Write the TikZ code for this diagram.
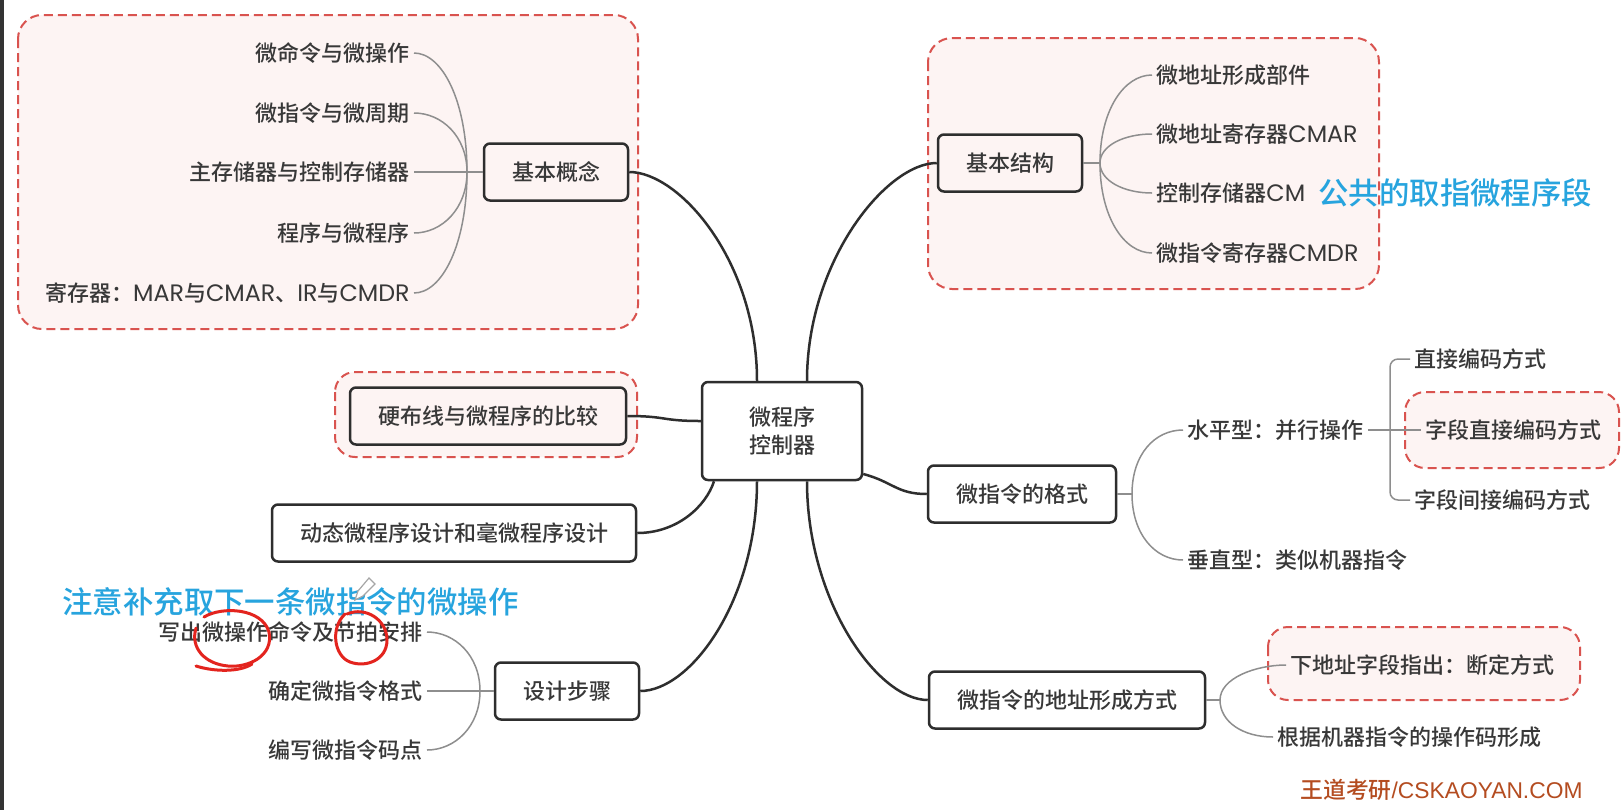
\documentclass[tikz,border=0pt]{standalone}
\usepackage{fontspec}
\setmainfont{Noto Sans CJK SC}[UprightFont={* Medium}]
\newfontfamily\en{Poppins}[Scale=1.08]
\newfontfamily\wmfont{Liberation Sans}
\usetikzlibrary{positioning}
\pgfdeclarelayer{background}
\pgfsetlayers{background,main}

\definecolor{ink}{HTML}{383838}
\definecolor{boxline}{HTML}{2E2E2E}
\definecolor{twig}{HTML}{8E8E8E}
\definecolor{hlred}{HTML}{D9534F}
\definecolor{hlfill}{HTML}{FDF4F3}
\definecolor{notebl}{HTML}{27A4DE}
\definecolor{penred}{HTML}{E3241E}
\definecolor{wmark}{HTML}{B44C20}

\tikzset{
  topic/.style={draw=boxline, line width=1.25pt, rounded corners=3pt, fill=white,
    inner xsep=14pt, minimum height=28.5pt, text=ink},
  leaf/.style={inner sep=2pt, text=ink},
  limb/.style={draw=boxline, line width=1.25pt},
  twigline/.style={draw=twig, line width=0.75pt},
  hilite/.style={draw=hlred, fill=hlfill, line width=1pt, dash pattern=on 4.5pt off 2.5pt, rounded corners=12pt},
  memo/.style={text=notebl, font=\fontsize{15.2}{18}\selectfont, inner sep=0pt},
  redink/.style={draw=penred, line width=1.5pt, line cap=round},
}

\begin{document}
\begin{tikzpicture}[x=0.5pt, y=-0.5pt, font=\fontsize{11}{14}\selectfont]
  \useasboundingbox (0,0) rectangle (1622,810);

  % centre
  \node[topic, minimum width=80pt, minimum height=49pt, align=center] (mpc) at (782,431) {微程序\\控制器};

  % basic concepts (left, top)
  \node[topic, fill=hlfill] (bg) at (556,172) {基本概念};
  \coordinate (bgj) at (467,172);
  \draw[twigline] (bgj) -- (bg.west);
  \foreach \i/\txt/\y in {1/微命令与微操作/53, 2/微指令与微周期/113, 3/主存储器与控制存储器/172,
      4/程序与微程序/233, 5/{寄存器：{\en MAR}与{\en CMAR}、{\en IR}与{\en CMDR}}/293} {
    \node[leaf, anchor=east] (bg\i) at (414,\y) {\txt};
    \draw[twigline] (bg\i.east) .. controls +(28,0) and +(0,{0.6*(\y-172)}) .. (bgj);
  }

  % basic structure (right, top)
  \node[topic, fill=hlfill] (bs) at (1010,163) {基本结构};
  \coordinate (bsj) at (1100,163);
  \draw[twigline] (bs.east) -- (bsj);
  \foreach \i/\txt/\y in {1/微地址形成部件/75, 2/{微地址寄存器{\en CMAR}}/134,
      3/{控制存储器{\en CM}}/193, 4/{微指令寄存器{\en CMDR}}/253} {
    \node[leaf, anchor=west] (bs\i) at (1152,\y) {\txt};
    \draw[twigline] (bsj) .. controls +(0,{0.6*(\y-163)}) and +(-28,0) .. (bs\i.west);
  }
  \node[memo, anchor=west] (pub) at (1318,193) {公共的取指微程序段};

  % comparison, dynamic design
  \node[topic, fill=hlfill] (hb) at (488,416) {硬布线与微程序的比较};
  \node[topic] (dt) at (454,533) {动态微程序设计和毫微程序设计};

  % design steps
  \node[topic] (sj) at (567,691) {设计步骤};
  \coordinate (sjj) at (480,691);
  \draw[twigline] (sjj) -- (sj.west);
  \foreach \i/\txt/\y in {1/写出微操作命令及节拍安排/632, 2/确定微指令格式/691, 3/编写微指令码点/750} {
    \node[leaf, anchor=east] (sj\i) at (427,\y) {\txt};
    \draw[twigline] (sj\i.east) .. controls +(28,0) and +(0,{0.6*(\y-691)}) .. (sjj);
  }
  \node[memo, anchor=west] (nxt) at (62,602) {注意补充取下一条微指令的微操作};

  % microinstruction format
  \node[topic] (gs) at (1022,494) {微指令的格式};
  \coordinate (gsj) at (1132,494);
  \draw[twigline] (gs.east) -- (gsj);
  \node[leaf, anchor=west] (sp) at (1183,430) {水平型：并行操作};
  \node[leaf, anchor=west] (cz) at (1183,560) {垂直型：类似机器指令};
  \draw[twigline] (gsj) .. controls +(0,-40) and +(-28,0) .. (sp.west);
  \draw[twigline] (gsj) .. controls +(0,40) and +(-28,0) .. (cz.west);
  \node[leaf, anchor=west] (zj1) at (1410,359) {直接编码方式};
  \node[leaf, anchor=west] (zj2) at (1421,430) {字段直接编码方式};
  \node[leaf, anchor=west] (zj3) at (1410,500) {字段间接编码方式};
  \draw[twigline] (sp.east) -- (zj2.west);
  \draw[twigline, rounded corners=4pt] (zj1.west) -- ++(-20,0) |- (zj3.west);

  % address forming
  \node[topic] (dz) at (1067,700) {微指令的地址形成方式};
  \coordinate (dzj) at (1220,700);
  \draw[twigline] (dz.east) -- (dzj);
  \node[leaf, anchor=west] (xd) at (1286,665) {下地址字段指出：断定方式};
  \node[leaf, anchor=west] (gj) at (1273,737) {根据机器指令的操作码形成};
  \draw[twigline] (dzj) .. controls +(0,-22) and +(-30,0) .. (xd.west);
  \draw[twigline] (dzj) .. controls +(0,22) and +(-30,0) .. (gj.west);

  % main branches
  \draw[limb] ([xshift=-12.5pt]mpc.north) .. controls +(0,-120) and +(50,0) .. (bg.east);
  \draw[limb] ([xshift=12.5pt]mpc.north) .. controls +(0,-120) and +(-50,0) .. (bs.west);
  \draw[limb] (hb.east) .. controls +(40,0) and +(-40,0) .. ([yshift=5pt]mpc.west);
  \draw[limb] ([xshift=-34pt]mpc.south) .. controls +(-8,25) and +(40,0) .. (dt.east);
  \draw[limb] ([xshift=-12.5pt]mpc.south) .. controls +(0,120) and +(50,0) .. (sj.east);
  \draw[limb] ([xshift=12.5pt]mpc.south) .. controls +(0,120) and +(-50,0) .. (dz.west);
  \draw[limb] ([yshift=-21.5pt]mpc.east) .. controls +(30,8) and +(-30,0) .. (gs.west);

  % page and highlighted regions
  \begin{pgfonlayer}{background}
    \fill[white] (0,0) rectangle (1622,810);
    \fill[black!80] (0,0) rectangle (4,810);
    \path[hilite] (18,15) rectangle (638,329);
    \path[hilite] (928,38) rectangle (1379,289);
    \path[hilite, rounded corners=10pt] (335,372) rectangle (637,457);
    \path[hilite, rounded corners=10pt] (1405,392) rectangle (1619,468);
    \path[hilite, rounded corners=10pt] (1268,627) rectangle (1580,700);
  \end{pgfonlayer}

  % hand marks
  \draw[redink] (204,617) .. controls (222,606) and (262,608) .. (269,632)
    .. controls (274,656) and (248,668) .. (228,666) .. controls (205,664) and (190,648) .. (196,628);
  \draw[redink] (347,614) .. controls (366,606) and (387,620) .. (387,640)
    .. controls (387,660) and (366,668) .. (350,662) .. controls (334,656) and (330,628) .. (345,614);
  \draw[redink] (196,666) .. controls (215,672) and (240,672) .. (252,664);
  \draw[gray!70, line width=0.6pt, fill=white] (375,584) -- (369,578) -- (358,591) -- (355,600) -- (363,596) -- cycle;

  \node[anchor=west, inner sep=0pt, text=wmark, font=\fontsize{11.4}{13}\selectfont] (wm) at (1300,790)
    {王道考研{\wmfont /CSKAOYAN.COM}};
\end{tikzpicture}
\end{document}
